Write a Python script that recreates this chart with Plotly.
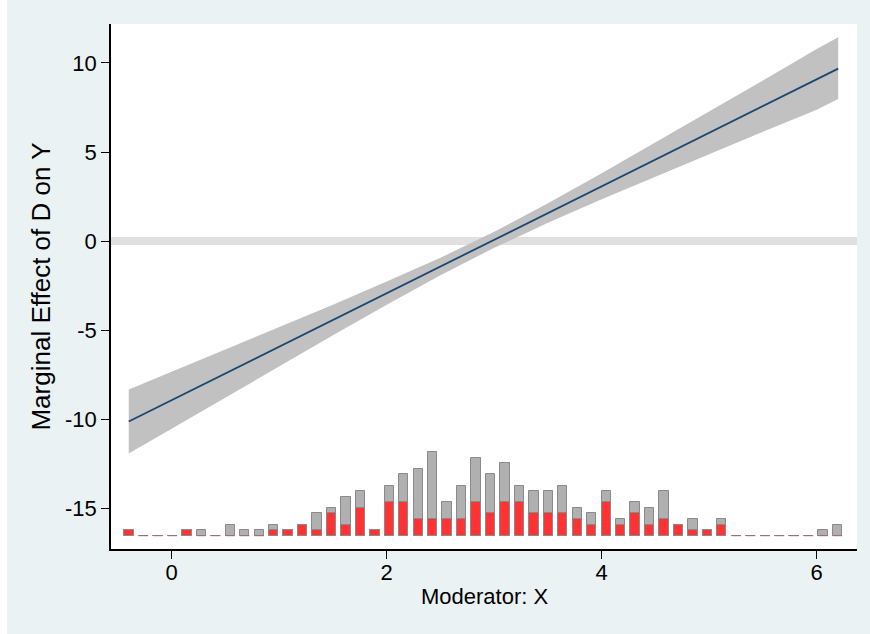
import plotly.graph_objects as go

# ---- marginal effect estimates ----
x_grid = [-0.40, 0.0, 0.5, 1.0, 1.5, 2.0, 2.5, 3.0, 3.5, 4.0, 4.5, 5.0, 5.5, 6.0, 6.2]
me = [-10.14, -8.94, -7.44, -5.94, -4.44, -2.93, -1.43, 0.07, 1.57, 3.07, 4.57, 6.08, 7.58, 9.08, 9.68]
ci_low = [-11.94, -10.54, -8.78, -7.04, -5.30, -3.58, -1.92, -0.38, 1.02, 2.34, 3.61, 4.88, 6.14, 7.38, 7.98]
ci_high = [-8.34, -7.34, -6.10, -4.84, -3.58, -2.28, -0.94, 0.52, 2.12, 3.80, 5.53, 7.28, 9.02, 10.78, 11.44]

# ---- histogram of the moderator (counts per bin) ----
hist_min = -0.397
hist_step = 0.1345
total_counts = [1, 0, 0, 0, 1, 1, 0, 2, 1, 1,
                2, 1, 2, 4, 5, 7, 8, 1, 9, 11,
                12, 15, 6, 9, 14, 11, 13, 9, 8, 8,
                9, 5, 4, 8, 3, 6, 5, 8, 2, 3,
                1, 3, 0, 0, 0, 0, 0, 0, 1, 2]
treated_counts = [1, 0, 0, 0, 1, 0, 0, 0, 0, 0,
                  1, 1, 2, 1, 4, 2, 5, 1, 6, 6,
                  3, 3, 3, 3, 6, 4, 6, 6, 4, 4,
                  4, 3, 2, 6, 2, 4, 2, 3, 2, 1,
                  1, 2, 0, 0, 0, 0, 0, 0, 0, 0]

y_tickvals = [-15, -10, -5, 0, 5, 10]
y_ticktext = ["-15", "-10", "-5", "0", "5", "10"]
x_tickvals = [0, 2, 4, 6]
x_ticktext = ["0", "2", "4", "6"]
x_title = "Moderator: X"
y_title = "Marginal Effect of D on Y"

bin_centers = [hist_min + i * hist_step for i in range(len(total_counts))]
bar_w = hist_step * 0.645

FONT = "Liberation Sans, Arial, Helvetica, sans-serif"
FS = 22

fig = go.Figure()

# confidence band
fig.add_trace(go.Scatter(
    x=x_grid + x_grid[::-1], y=ci_high + ci_low[::-1],
    fill="toself", fillcolor="#c1c1c1", line=dict(width=0),
    mode="lines", hoverinfo="skip", showlegend=False))

# point estimate line
fig.add_trace(go.Scatter(
    x=x_grid, y=me, mode="lines",
    line=dict(color="#1a476f", width=1.8), showlegend=False))

# histogram: total (gray) and treated (red), overlaid
fig.add_trace(go.Bar(
    x=bin_centers, y=total_counts, width=bar_w, yaxis="y2",
    marker=dict(color="#b0b0b0", line=dict(color="#8a8a8a", width=1)),
    showlegend=False))
fig.add_trace(go.Bar(
    x=bin_centers, y=treated_counts, width=bar_w, yaxis="y2",
    marker=dict(color="#ff3333", line=dict(color="#8a8a8a", width=1)),
    showlegend=False))

# empty treated bins show as a thin base line
dx, dy = [], []
for c, t in zip(bin_centers, treated_counts):
    if t == 0:
        dx += [c - bar_w / 2, c + bar_w / 2, None]
        dy += [0, 0, None]
fig.add_trace(go.Scatter(
    x=dx, y=dy, yaxis="y2", mode="lines",
    line=dict(color="#a06c6c", width=1), hoverinfo="skip", showlegend=False))

# zero reference line
fig.add_hline(y=0, line=dict(color="#e0e0e0", width=8), layer="below")

# outer background with thin white strips at left and top
L, R, T, B = 111, 13, 24, 85
W, H = 870, 634
pw, ph = W - L - R, H - T - B
fig.add_shape(type="rect", xref="paper", yref="paper",
              x0=(0 - L) / pw, x1=(7 - L) / pw, y0=-B / ph, y1=(H - T) / ph,
              fillcolor="white", line=dict(width=0), layer="below")
fig.add_shape(type="rect", xref="paper", yref="paper",
              x0=-L / pw, x1=(W - L) / pw, y0=(H - T - 2) / ph, y1=(H - T) / ph,
              fillcolor="white", line=dict(width=0), layer="below")

# x axis title placed as text below the tick labels
fig.add_annotation(text=x_title, xref="paper", yref="paper",
                   x=0.5, y=-(596 - (H - B)) / ph, xanchor="center", yanchor="middle",
                   showarrow=False, font=dict(size=FS))

fig.update_layout(
    width=W, height=H,
    margin=dict(l=L, r=R, t=T, b=B, pad=0),
    paper_bgcolor="#eaf2f3", plot_bgcolor="white",
    barmode="overlay", bargap=0,
    font=dict(family=FONT, size=FS, color="black"),
    xaxis=dict(range=[-0.565, 6.375], tickvals=x_tickvals, ticktext=x_ticktext,
               ticks="outside", ticklen=8, tickwidth=1, tickcolor="black",
               showline=True, linecolor="black", linewidth=1.5,
               showgrid=False, zeroline=False, ticklabelstandoff=-5,
               automargin=False, tickfont=dict(size=FS)),
    yaxis=dict(range=[-17.3, 12.19], tickvals=y_tickvals, ticktext=y_ticktext,
               ticks="outside", ticklen=8, tickwidth=1, tickcolor="black",
               showline=True, linecolor="black", linewidth=1.5,
               showgrid=False, zeroline=False,
               title=dict(text=y_title, standoff=7),
               automargin=False, tickfont=dict(size=FS)),
    yaxis2=dict(range=[-2.39, 91.87], overlaying="y", visible=False,
                showgrid=False, zeroline=False),
)

fig.write_html("out.html", post_script="document.body.style.margin='0px';",
               config={"displayModeBar": False})
